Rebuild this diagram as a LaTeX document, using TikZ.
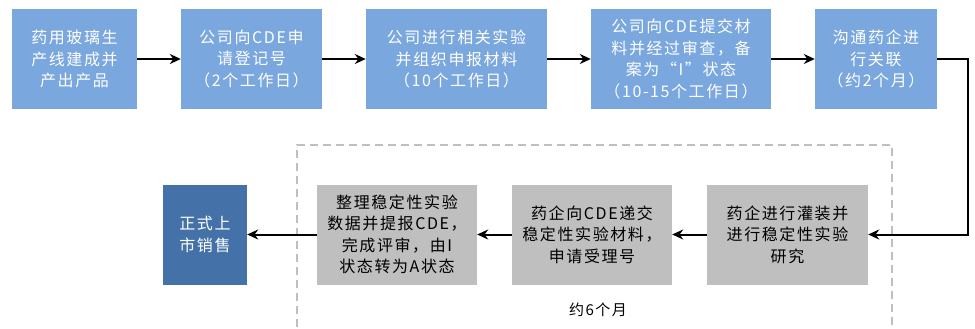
\documentclass[tikz,border=0pt]{standalone}
\usepackage{fontspec}
\newfontfamily\cjk[LetterSpace=10]{Noto Sans CJK SC}
\usetikzlibrary{arrows.meta}

\definecolor{stepblue}{RGB}{122,167,222}
\definecolor{lastblue}{RGB}{68,114,168}
\definecolor{labgray}{RGB}{191,191,191}

\tikzset{
	box/.style={align=center, inner sep=0pt, minimum height=100pt,
		font=\cjk\fontsize{16}{21.5}\selectfont},
	bluebox/.style={box, fill=stepblue, text=white},
	graybox/.style={box, fill=labgray, text=black},
	lastbox/.style={box, fill=lastblue, text=white},
	arrow/.style={line width=2pt, -{Stealth[length=11pt,width=10pt]}}
}

\begin{document}
\begin{tikzpicture}[x=1pt,y=-1pt]
	\useasboundingbox (0,0) rectangle (975,329);

	% top row
	\node[bluebox, minimum width=125pt] (prod) at (74.5,59) {药用玻璃生\\产线建成并\\产出产品};
	\node[bluebox, minimum width=141pt] (reg) at (251.5,59) {公司向CDE申\\请登记号\\（2个工作日）};
	\node[bluebox, minimum width=181pt] (prep) at (456.5,59) {公司进行相关实验\\并组织申报材料\\（10个工作日）};
	\node[bluebox, minimum width=180pt] (file) at (681,59) {公司向CDE提交材\\料并经过审查，备\\案为“I”状态\\（10-15个工作日）};
	\node[bluebox, minimum width=122pt] (link) at (876,59) {沟通药企进\\行关联\\（约2个月）};

	% stability stage
	\draw[labgray, line width=2pt, dash pattern=on 8pt off 5pt] (297,340) |- (892,145) -- (892,340);
	\node[font=\cjk\fontsize{15}{18}\selectfont] (months) at (598,310) {约6个月};

	\node[graybox, minimum width=161pt] (fill) at (787.5,234.5) {药企进行灌装并\\进行稳定性实验\\研究};
	\node[graybox, minimum width=160pt] (send) at (592,234.5) {药企向CDE递交\\稳定性实验材料，\\申请受理号};
	\node[graybox, minimum width=160pt] (rev) at (397,234.5) {整理稳定性实验\\数据并提报CDE，\\完成评审，由I\\状态转为A状态};
	\node[lastbox, minimum width=84pt] (sale) at (205,234.5) {正式上\\市销售};

	\coordinate (turn) at (968,59);

	\draw[arrow] (prod) -- (reg);
	\draw[arrow] (reg) -- (prep);
	\draw[arrow] (prep) -- (file);
	\draw[arrow] (file) -- (link);
	\draw[arrow] (link.east) -- (turn) |- (fill.east);
	\draw[arrow] (fill) -- (send);
	\draw[arrow] (send) -- (rev);
	\draw[arrow] (rev) -- (sale);
\end{tikzpicture}
\end{document}
